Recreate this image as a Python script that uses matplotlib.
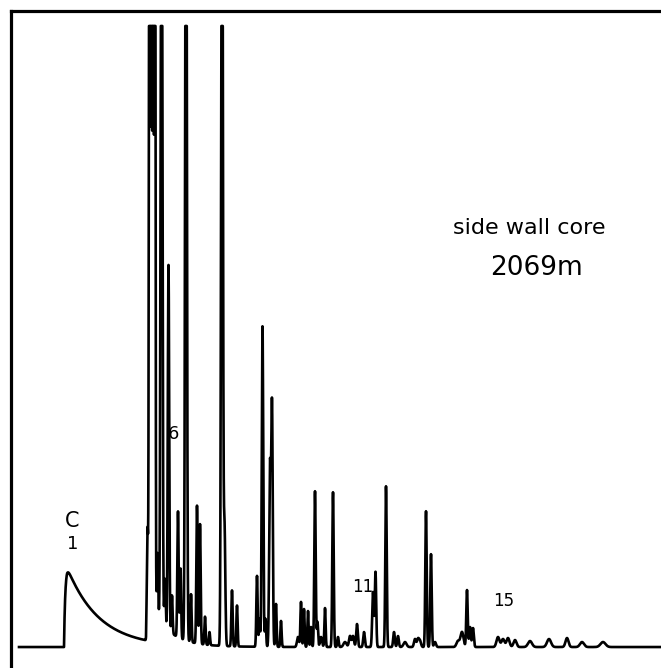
import numpy as np
import matplotlib.pyplot as plt

# retention position, peak height, peak width (detector trace units)
PEAK_RT = [147.5, 149.5, 151.3, 153.1, 154.9, 157.5, 161.5, 165.0, 168.5, 172.0, 178.0, 180.5,
           186.0, 191.0, 197.0, 200.0, 205.0, 209.5, 222.0, 224.5, 232.0, 237.0,
           257.0, 259.5, 262.5, 265.5, 270.0, 272.0, 276.0, 281.0, 298.0, 301.0,
           304.0, 308.0, 311.0, 315.0, 317.5, 321.0, 325.0, 333.0, 338.0, 345.0,
           350.0, 353.0, 357.0, 364.0, 373.0, 375.5, 386.0, 394.0, 398.0, 405.0,
           415.0, 418.0, 420.0, 426.0, 431.0, 435.0, 458.0, 462.0, 467.0, 470.0,
           473.0, 498.0, 503.0, 508.0, 515.0, 530.0, 549.0, 567.0, 582.0, 603.0]
PEAK_HEIGHT = [81, 1200, 1200, 1200, 1200, 63, 1000, 48, 366, 38, 126, 70,
               1000, 48, 138, 120, 28, 13, 1000, 120, 56, 41,
               71, 28, 321, 28, 181, 241, 43, 26, 10, 45,
               38, 36, 20, 156, 25, 10, 39, 155, 10, 5,
               11, 11, 23, 15, 55, 75, 161, 15, 11, 5,
               8, 8, 6, 136, 93, 5, 6, 15, 57, 20,
               19, 10, 8, 9, 7, 6, 8, 9, 5, 5]
PEAK_WIDTH = [0.6, 0.5, 0.5, 0.5, 0.5, 0.6, 0.8, 0.6, 0.7, 0.6, 0.65, 0.6,
              0.8, 0.6, 0.65, 0.65, 0.6, 0.6, 0.8, 0.8, 0.65, 0.6,
              0.65, 0.6, 0.75, 0.6, 0.8, 0.75, 0.6, 0.6, 1.0, 0.6,
              0.6, 0.6, 0.6, 0.7, 0.6, 1.0, 0.6, 0.7, 0.7, 1.5,
              1.0, 1.0, 0.8, 0.8, 0.8, 0.7, 0.7, 0.8, 0.8, 1.5,
              1.0, 1.0, 1.0, 0.7, 0.7, 1.0, 1.5, 1.5, 0.7, 0.8,
              0.8, 1.5, 1.5, 1.5, 1.5, 2.0, 2.0, 1.5, 2.0, 2.5]

# tailing humps: start, height, decay
HUMP_START = [64.0, 146.0]
HUMP_HEIGHT = [80, 45]
HUMP_DECAY = [32.0, 16.0]

FULL_SCALE = 622  # recorder pen limit


def main():
    x = np.linspace(19, 661, 12841)
    y = np.zeros_like(x)
    for s, h, tau in zip(HUMP_START, HUMP_HEIGHT, HUMP_DECAY):
        d = x - s
        rise = 1 - np.exp(-np.clip(d, 0, None) / 1.2)
        y += np.where(d > 0, h * rise * np.exp(-np.clip(d - 3, 0, None) / tau), 0)
    for rt, h, w in zip(PEAK_RT, PEAK_HEIGHT, PEAK_WIDTH):
        y += h * np.exp(-0.5 * ((x - rt) / w) ** 2)
    y = np.minimum(y, FULL_SCALE)

    fig = plt.figure(figsize=(6.61, 6.68), dpi=100)
    ax = fig.add_axes([11 / 661, 0, 650 / 661, 657 / 668])
    ax.plot(x, y, color="black", lw=1.9, solid_joinstyle="round")
    ax.set_xlim(11, 661)
    ax.set_ylim(-21, 637)
    ax.set_xticks([])
    ax.set_yticks([])
    for side in ["right", "bottom"]:
        ax.spines[side].set_visible(False)
    for side in ["left", "top"]:
        ax.spines[side].set_linewidth(2.3)

    ax.text(72, 648 - 522, "C", fontsize=15, ha="center", va="center")
    ax.text(73, 648 - 545, "1", fontsize=13, ha="center", va="center")
    ax.text(173, 648 - 435, "6", fontsize=13, ha="center", va="center")
    ax.text(363, 648 - 588, "11", fontsize=12, ha="center", va="center")
    ax.text(504, 648 - 602, "15", fontsize=12, ha="center", va="center")
    ax.text(529, 648 - 228, "side wall core", fontsize=16, ha="center", va="center")
    ax.text(536, 648 - 268, "2069m", fontsize=19, ha="center", va="center")

    fig.savefig("out.png", dpi=100)
    return 0


if __name__ == '__main__':
    main()
